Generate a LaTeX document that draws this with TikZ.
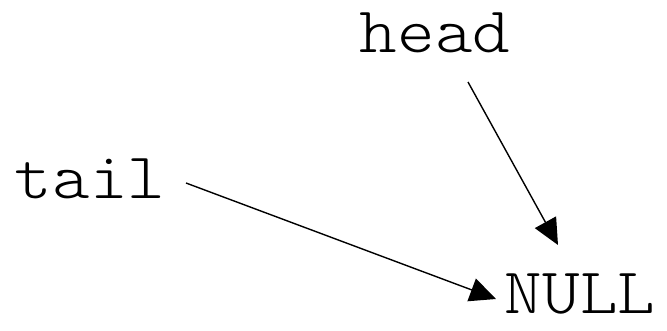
\documentclass[tikz,border=0pt]{standalone}
\usepackage{fontspec}
\newfontfamily\courfont[Extension=.otf, FakeStretch=1.1]{lmmonolt10-regular}
\usetikzlibrary{positioning, arrows.meta, calc}

\begin{document}
\begin{tikzpicture}[
        x=1pt, y=-1pt,
        lbl/.style={
            inner sep=0pt,
            anchor=base,
            font=\fontsize{65}{70}\selectfont\courfont
        },
        ptr/.style={
            -{Triangle[length=26pt, width=24pt]},
            line width=1.4pt,
            draw=black
        }
    ]
    \useasboundingbox (0,0) rectangle (667,330);

    % Labels
    \node[lbl] (head) at (435,52) {head};
    \node[lbl] (tail) at (90,198) {tail};
    \node[lbl] (null) at (580,313) {NULL};

    % Ends of the pointers
    \coordinate (headout) at ($(head.base)+(33,30)$);
    \coordinate (tailout) at ($(tail.base)+(96,-15)$);
    \coordinate (nullin1) at ($(null.base)+(-22,-68)$);
    \coordinate (nullin2) at ($(null.base)+(-84,-14)$);

    % Pointers
    \draw[ptr] (headout) -- (nullin1);
    \draw[ptr] (tailout) -- (nullin2);

\end{tikzpicture}
\end{document}
